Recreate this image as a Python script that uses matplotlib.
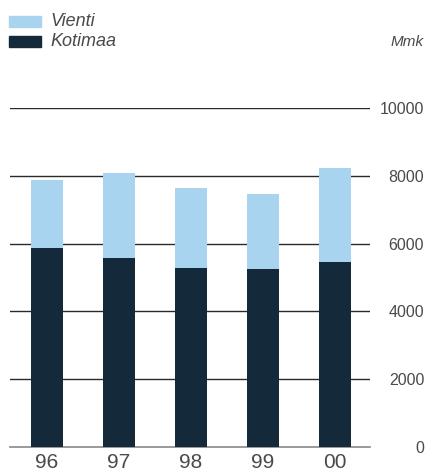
import matplotlib.pyplot as plt
from matplotlib.patches import Rectangle

years = ['96', '97', '98', '99', '00']
kotimaa = [5870, 5580, 5280, 5250, 5460]
total = [7880, 8080, 7640, 7460, 8230]
vienti = [t - k for t, k in zip(total, kotimaa)]
yticks = [0, 2000, 4000, 6000, 8000, 10000]

dark = '#14293a'
light = '#a8d4f0'
txt = '#4a4a4a'

plt.rcParams['font.family'] = ['Liberation Sans', 'DejaVu Sans']

fig = plt.figure(figsize=(4.26, 4.71), dpi=100)
ax = fig.add_axes([10/426, 24/471, 360/426, 339/471])

x = range(len(years))
ax.bar(x, kotimaa, width=0.444, color=dark, zorder=3)
ax.bar(x, vienti, bottom=kotimaa, width=0.444, color=light, zorder=3)

ax.set_xlim(-0.514, 4.486)
ax.set_ylim(0, 10000)
for s in ax.spines.values():
    s.set_visible(False)
for v in yticks[1:]:
    ax.axhline(v, color='#2a2a2a', lw=1.0, zorder=2)
ax.axhline(0, color='#888888', lw=1.2, zorder=2, clip_on=False)

ax.yaxis.tick_right()
ax.set_yticks(yticks)
ax.tick_params(axis='y', length=0, pad=39, labelsize=11.5, labelcolor=txt)
for lab in ax.get_yticklabels():
    lab.set_ha('right')
ax.set_xticks(list(x))
ax.set_xticklabels(years)
ax.tick_params(axis='x', length=0, pad=4, labelsize=15, labelcolor=txt)

# legend
fig.patches.append(Rectangle((9/426, 1 - 27/471), 32/426, 11/471,
                             transform=fig.transFigure, color=light))
fig.patches.append(Rectangle((9/426, 1 - 47/471), 32/426, 11/471,
                             transform=fig.transFigure, color=dark))
fig.text(50/426, 1 - 21/471, 'Vienti', style='italic', fontsize=13,
         color=txt, va='center')
fig.text(50/426, 1 - 41/471, 'Kotimaa', style='italic', fontsize=13,
         color=txt, va='center')
fig.text(424/426, 1 - 42/471, 'Mmk', style='italic', fontsize=11,
         color=txt, va='center', ha='right')

fig.savefig('out.png', dpi=100)
